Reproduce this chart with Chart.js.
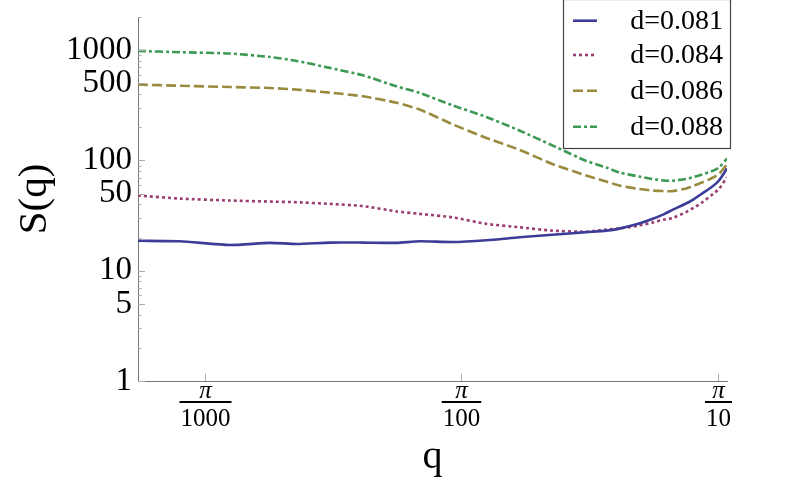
<!DOCTYPE html>
<html><head><meta charset="utf-8">
<script src="https://cdn.jsdelivr.net/npm/chart.js@4"></script>
<style>html,body{margin:0;padding:0;background:#fff}#wrap{width:790px;height:494px;position:relative}</style>
</head><body><div id="wrap"><canvas id="c"></canvas></div>
<script>
// q values (x axis)
const qValues = [0.001723,0.002511,0.003930,0.005623,0.007164,0.009626,0.012941,0.017549,0.021570,0.028983,0.039310,0.052816,0.071000,0.096284,0.11518,0.12941,0.15479,0.17394,0.19364,0.20804,0.23585,0.25337,0.27219,0.29512,0.31699,0.34055];
// S(q) series
const s081 = [18.7,18.5,17.1,17.9,17.5,18.0,18.0,17.9,18.5,18.2,18.9,20.1,21.2,22.4,23.1,24.1,26.8,29.4,32.6,35.5,40.7,44.7,50.1,56.8,65.8,84.6];
const s084 = [48.1,45.1,43.3,42.4,41.8,40.4,38.6,34.5,32.8,30.5,26.6,24.8,23.1,22.6,23.6,24.1,25.7,27.3,29.1,30.0,34.0,37.4,41.5,48.1,55.3,70.5];
const s086 = [488,476,464,454,439,412,382,334,290,213,160,125,93,73,64.4,59.3,55.1,53.4,52.8,52.6,55.7,59.3,63.1,68.6,75.7,92];
const s088 = [985,959,933,869,799,691,593,470,410,316,248,187,137,99,86.4,77.8,71.5,67.9,65.8,65.4,67.9,70.8,74.6,79.4,86.4,104];
const seriesLabels = ['d=0.081','d=0.084','d=0.086','d=0.088'];
const seriesColors = ['#3d3d99','#993d71','#998b3d','#3d9954'];
const seriesDashes = [[],[3,3],[10,4],[8,3,3,3]];
// ticks
const yTickValues = [1,2,3,4,5,6,7,8,9,10,20,30,40,50,60,70,80,90,100,200,300,400,500,600,700,800,900,1000,2000];
const yTickLabeled = [1,5,10,50,100,500,1000];
const xTickValues = [Math.PI/1000, Math.PI/100, Math.PI/10];
const xTickNumer = 'π';
const xTickDenoms = ['1000','100','10'];

const seriesData = [s081, s084, s086, s088];
const datasets = seriesData.map((arr, i) => ({
  label: seriesLabels[i],
  data: arr.map((v, j) => ({x: qValues[j], y: v})),
  borderColor: seriesColors[i],
  borderDash: seriesDashes[i],
  borderWidth: 2.6,
  pointRadius: 0,
  tension: 0.2,
  fill: false
}));

const SERIF = "'Liberation Serif', 'Times New Roman', serif";

const decorPlugin = {
  id: 'decor',
  afterDraw(chart) {
    const ctx = chart.ctx;
    const area = chart.chartArea;
    const xs = chart.scales.x, ys = chart.scales.y;
    ctx.save();
    // inward ticks on y
    ctx.strokeStyle = '#aaaaaa';
    ctx.lineWidth = 1;
    yTickValues.forEach(v => {
      const py = Math.round(ys.getPixelForValue(v)) + 0.5;
      const len = yTickLabeled.includes(v) ? 7 : 3.5;
      ctx.beginPath();
      ctx.moveTo(area.left, py);
      ctx.lineTo(area.left + len, py);
      ctx.stroke();
    });
    // inward ticks on x + fraction labels
    xTickValues.forEach((v, i) => {
      const px = Math.round(xs.getPixelForValue(v)) + 0.5;
      ctx.strokeStyle = '#aaaaaa';
      ctx.beginPath();
      ctx.moveTo(px, area.bottom);
      ctx.lineTo(px, area.bottom - 7);
      ctx.stroke();
      ctx.fillStyle = '#000';
      ctx.textAlign = 'center';
      ctx.textBaseline = 'alphabetic';
      ctx.font = "italic 25px " + SERIF;
      ctx.fillText(xTickNumer, px, area.bottom + 17);
      ctx.font = "25px " + SERIF;
      const w = ctx.measureText(xTickDenoms[i]).width + 2;
      ctx.fillText(xTickDenoms[i], px, area.bottom + 45);
      ctx.fillRect(px - w / 2, area.bottom + 20, w, 2);
    });
    // legend
    const lx = 563, ly = -1, lw = 167, lh = 149;
    ctx.fillStyle = '#fff';
    ctx.fillRect(lx, ly, lw, lh);
    ctx.strokeStyle = '#444';
    ctx.lineWidth = 1.2;
    ctx.strokeRect(lx + 0.5, ly + 0.5, lw, lh);
    const rows = [20.7, 55, 90.7, 126.7];
    seriesLabels.forEach((lab, i) => {
      ctx.strokeStyle = seriesColors[i];
      ctx.lineWidth = 2.6;
      ctx.setLineDash(seriesDashes[i]);
      ctx.beginPath();
      ctx.moveTo(573, rows[i]);
      ctx.lineTo(597, rows[i]);
      ctx.stroke();
      ctx.setLineDash([]);
      ctx.fillStyle = '#000';
      ctx.font = "28px " + SERIF;
      ctx.textAlign = 'right';
      ctx.textBaseline = 'middle';
      ctx.fillText(lab, 723, rows[i] + 1);
    });
    ctx.restore();
  }
};

new Chart(document.getElementById('c'), {
  type: 'line',
  data: { datasets },
  plugins: [decorPlugin],
  options: {
    responsive: true,
    maintainAspectRatio: false,
    animation: false,
    layout: { padding: { top: 17, right: 63, left: 0, bottom: 0 } },
    plugins: { legend: { display: false }, tooltip: { enabled: false } },
    scales: {
      x: {
        type: 'logarithmic',
        min: 0.001723,
        max: 0.3406,
        afterBuildTicks: s => { s.ticks = xTickValues.map(v => ({ value: v })); },
        afterFit: s => { s.height = 113; s.paddingLeft = 0; s.paddingRight = 0; },
        ticks: { display: false },
        grid: { display: false, drawTicks: false },
        border: { display: true, color: '#777', width: 1 },
        title: { display: true, text: 'q', color: '#000', font: { family: SERIF, size: 40 }, padding: { bottom: 13, top: 0 } }
      },
      y: {
        type: 'logarithmic',
        min: 1,
        max: 2000,
        afterBuildTicks: s => { s.ticks = yTickValues.map(v => ({ value: v })); },
        afterFit: s => { s.width = 138; s.paddingTop = 0; s.paddingBottom = 0; },
        ticks: {
          autoSkip: false,
          padding: 6,
          color: '#000',
          font: { family: SERIF, size: 33 },
          callback: v => yTickLabeled.includes(v) ? String(v) : ''
        },
        grid: { display: false, drawTicks: false },
        border: { display: true, color: '#777', width: 1 },
        title: { display: true, text: 'S(q)', color: '#000', font: { family: SERIF, size: 41 }, padding: { top: 11, bottom: 0 } }
      }
    }
  }
});
</script>
</body></html>
